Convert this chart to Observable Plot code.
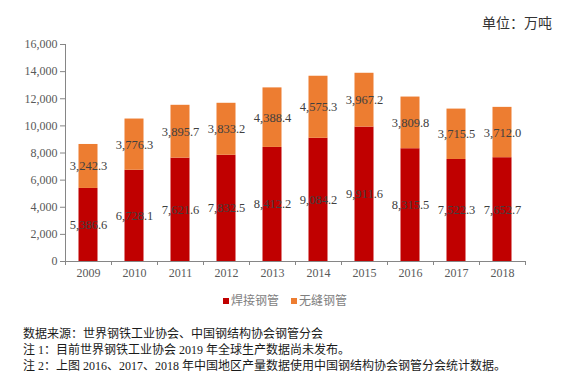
<!DOCTYPE html>
<html>
<head>
<meta charset="utf-8">
<script src="https://cdn.jsdelivr.net/npm/d3@7"></script>
<script src="https://cdn.jsdelivr.net/npm/@observablehq/plot@0.6"></script>
<style>
  html, body { margin: 0; padding: 0; background: #fff; }
  #wrap { position: relative; width: 570px; height: 373px; overflow: hidden; font-family: "Liberation Serif", "Noto Sans CJK SC", serif; }
  #unit { position: absolute; left: 482px; top: 12px; font-size: 14px; color: #333; font-family: "Noto Sans CJK SC", sans-serif; white-space: nowrap; }
  #chart { position: absolute; left: 0; top: 0; }
  #legend { position: absolute; left: 0; width: 570px; top: 291px; font-size: 12px; color: #7f7f7f; font-family: "Noto Sans CJK SC", sans-serif; text-align: center; white-space: nowrap; }
  #legend span.sw { display: inline-block; width: 6px; height: 6px; margin-right: 2px; vertical-align: 1px; }
  #legend span.item { margin: 0 6px; }
  #notes { position: absolute; left: 23px; top: 326px; font-size: 12px; line-height: 16px; color: #1a1a1a; font-family: "Liberation Serif", "Noto Sans CJK SC", serif; white-space: nowrap; }
</style>
</head>
<body>
<div id="wrap">
  <div id="chart"></div>
  <div id="unit"></div>
  <div id="legend"></div>
  <div id="notes"></div>
</div>
<script>
const years = ["2009","2010","2011","2012","2013","2014","2015","2016","2017","2018"];
const seriesNames = ["焊接钢管","无缝钢管"];
const seriesColors = ["#C00000","#ED7D31"];
const welded = [5386.6, 6728.1, 7621.6, 7832.5, 8412.2, 9084.2, 9911.6, 8315.5, 7522.3, 7652.7];
const seamless = [3242.3, 3776.3, 3895.7, 3833.2, 4388.4, 4575.3, 3967.2, 3809.8, 3715.5, 3712.0];
const yTicks = [0, 2000, 4000, 6000, 8000, 10000, 12000, 14000, 16000];
const unitLabel = "单位：万吨";
const notes = [
  "数据来源：世界钢铁工业协会、中国钢结构协会钢管分会",
  "注 1：目前世界钢铁工业协会 2019 年全球生产数据尚未发布。",
  "注 2：上图 2016、2017、2018 年中国地区产量数据使用中国钢结构协会钢管分会统计数据。"
];

const data = [];
years.forEach((y, i) => {
  data.push({year: y, type: seriesNames[0], value: welded[i]});
  data.push({year: y, type: seriesNames[1], value: seamless[i]});
});

const fmt = d3.format(",.1f");
const W = 570, H = 285;
const mL = 65, mR = 45, mT = 44, mB = 24;
const bandPx = (W - mL - mR) / years.length;
const tickH = 4 / (H - mB - mT) * 16000;

const chart = Plot.plot({
  width: W,
  height: H,
  marginTop: mT,
  marginBottom: mB,
  marginLeft: mL,
  marginRight: mR,
  style: {fontFamily: "'Liberation Serif', serif", fontSize: "12px", color: "#595959", background: "transparent"},
  x: {domain: years, padding: 0, label: null},
  y: {domain: [0, 16000], label: null},
  color: {domain: seriesNames, range: seriesColors},
  marks: [
    Plot.frame({anchor: "left", stroke: "#868686"}),
    Plot.axisY({ticks: yTicks, tickFormat: d3.format(","), tickSize: 5, tickPadding: 3, stroke: "#868686", fill: "#595959", fontSize: 12}),
    Plot.axisX({tickSize: 0, tickPadding: 7, fill: "#595959", fontSize: 12}),
    Plot.barY(data, {x: "year", y: "value", fill: "type", z: "type", insetLeft: 13.5, insetRight: 13.5}),
    Plot.ruleY([0], {stroke: "#868686"}),
    Plot.ruleX(years, {x: d => d, dx: -bandPx / 2, y1: 0, y2: -tickH, stroke: "#868686"}),
    Plot.ruleX(years.slice(-1), {x: d => d, dx: bandPx / 2, y1: 0, y2: -tickH, stroke: "#868686"}),
    Plot.text(data, Plot.stackY({x: "year", y: "value", z: "type", text: d => fmt(d.value), fill: "#404040", fontSize: 12.5, fontFamily: "'Liberation Serif', serif"}))
  ]
});
document.getElementById("chart").appendChild(chart);

document.getElementById("legend").innerHTML = seriesNames.map((n, i) =>
  `<span class="item"><span class="sw" style="background:${seriesColors[i]}"></span>${n}</span>`).join("");
document.getElementById("unit").textContent = unitLabel;
document.getElementById("notes").innerHTML = notes.map(t => `<div>${t}</div>`).join("");
</script>
</body>
</html>
